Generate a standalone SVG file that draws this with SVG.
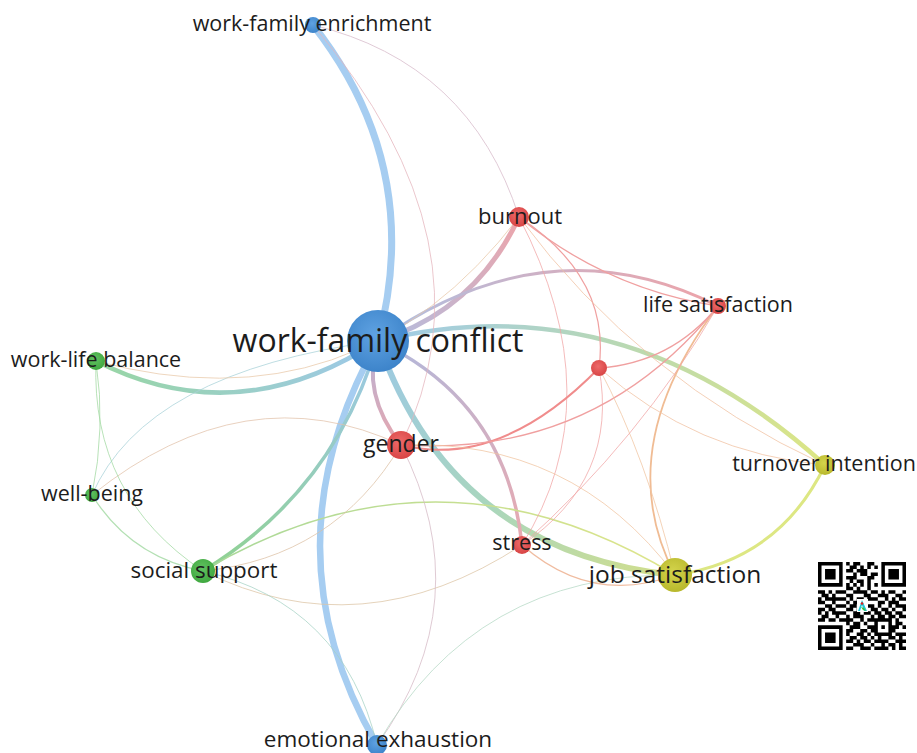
<svg xmlns="http://www.w3.org/2000/svg" width="917" height="753" viewBox="0 0 917 753">
<style>
.lbl{font-family:"Open Sans","DejaVu Sans",sans-serif;fill:#1c1c1c;text-anchor:middle;font-size:21.5px}
.e{fill:none;stroke-linecap:round}
.thin{stroke-width:1;stroke-opacity:0.75}
</style>
<defs>
<radialGradient id="nBlue" cx="45%" cy="40%" r="60%"><stop offset="0" stop-color="#5fa2e2"/><stop offset="1" stop-color="#3d84ca"/></radialGradient>
<radialGradient id="nRed" cx="45%" cy="40%" r="60%"><stop offset="0" stop-color="#ee6a6a"/><stop offset="1" stop-color="#d84545"/></radialGradient>
<radialGradient id="nGreen" cx="45%" cy="40%" r="60%"><stop offset="0" stop-color="#62c262"/><stop offset="1" stop-color="#40a840"/></radialGradient>
<radialGradient id="nYellow" cx="45%" cy="40%" r="60%"><stop offset="0" stop-color="#d4d44c"/><stop offset="1" stop-color="#b8b82c"/></radialGradient>
<linearGradient id="gBurn" gradientUnits="userSpaceOnUse" x1="378" y1="341" x2="519" y2="217"><stop offset="0" stop-color="#b2bde0"/><stop offset="1" stop-color="#eca5ab"/></linearGradient>
<linearGradient id="gLS" gradientUnits="userSpaceOnUse" x1="378" y1="341" x2="718" y2="306"><stop offset="0" stop-color="#aebfe2"/><stop offset="1" stop-color="#eea3a8"/></linearGradient>
<linearGradient id="gTurn" gradientUnits="userSpaceOnUse" x1="378" y1="341" x2="825" y2="465"><stop offset="0" stop-color="#9fcbe8"/><stop offset="0.5" stop-color="#b8d8b4"/><stop offset="1" stop-color="#dde683"/></linearGradient>
<linearGradient id="gJS" gradientUnits="userSpaceOnUse" x1="378" y1="341" x2="675" y2="575"><stop offset="0" stop-color="#9cc9e4"/><stop offset="0.5" stop-color="#a9d6bd"/><stop offset="1" stop-color="#d3df8a"/></linearGradient>
<linearGradient id="gStress" gradientUnits="userSpaceOnUse" x1="378" y1="341" x2="522" y2="545"><stop offset="0" stop-color="#b0b8dc"/><stop offset="1" stop-color="#e9a9b0"/></linearGradient>
<linearGradient id="gGender" gradientUnits="userSpaceOnUse" x1="378" y1="341" x2="401" y2="445"><stop offset="0" stop-color="#b7b3d6"/><stop offset="1" stop-color="#e6a6ae"/></linearGradient>
<linearGradient id="gWLB" gradientUnits="userSpaceOnUse" x1="378" y1="341" x2="96" y2="361"><stop offset="0" stop-color="#9dc8ea"/><stop offset="1" stop-color="#98d6a4"/></linearGradient>
<linearGradient id="gSS" gradientUnits="userSpaceOnUse" x1="378" y1="341" x2="203" y2="571"><stop offset="0" stop-color="#9cc8e8"/><stop offset="1" stop-color="#8fd28f"/></linearGradient>
<linearGradient id="gSSJS" gradientUnits="userSpaceOnUse" x1="203" y1="571" x2="675" y2="575"><stop offset="0" stop-color="#a8d89a"/><stop offset="1" stop-color="#dfe58a"/></linearGradient>
</defs>
<rect width="917" height="753" fill="#ffffff"/>
<g id="connectors">
<path class="e" d="M378,341 Q424.5,167 313,25" stroke="#a6cdf1" stroke-width="7"/>
<path class="e" d="M378,341 Q262.5,547 377,745" stroke="#a6cdf1" stroke-width="6.5"/>
<path class="e" d="M378,341 Q475.5,311 519,217" stroke="url(#gBurn)" stroke-width="5"/>
<path class="e" d="M378,341 Q548,220.5 718,306" stroke="url(#gLS)" stroke-width="3"/>
<path class="e" d="M378,341 Q622.5,281 825,465" stroke="url(#gTurn)" stroke-width="4.5"/>
<path class="e" d="M378,341 Q451.5,552 675,575" stroke="url(#gJS)" stroke-width="6"/>
<path class="e" d="M378,341 Q507,402.6 522,545" stroke="url(#gStress)" stroke-width="3.5"/>
<path class="e" d="M378,341 Q360.5,393 401,445" stroke="url(#gGender)" stroke-width="4"/>
<path class="e" d="M378,341 Q237,433 96,361" stroke="url(#gWLB)" stroke-width="4.5"/>
<path class="e" d="M378,341 Q335.5,490 203,571" stroke="url(#gSS)" stroke-width="3.5"/>
<path class="e thin" d="M378,341 Q145,372 92,495" stroke="#a8d2d8"/>
<path class="e thin" d="M96,361 Q355.7,431 519,217" stroke="#e8c8a8"/>
<path class="e thin" d="M92,495 Q245.5,372 401,445" stroke="#e2c2aa"/>
<path class="e thin" d="M96,361 Q106,428 92,495" stroke="#a0d8a0"/>
<path class="e thin" d="M96,361 Q90.7,496 203,571" stroke="#a0d8a0"/>
<path class="e" d="M92,495 Q130.5,557 203,571" stroke="#a0d8a0" stroke-width="1.3" stroke-opacity="0.8"/>
<path class="e" d="M203,571 Q439,431 675,575" stroke="url(#gSSJS)" stroke-width="1.6"/>
<path class="e thin" d="M203,571 Q361.5,650 522,545" stroke="#dcc4a4"/>
<path class="e thin" d="M203,571 Q343.8,604 377,745" stroke="#a6d2c4"/>
<path class="e thin" d="M203,571 Q334,558 401,445" stroke="#dcc0a4"/>
<path class="e thin" d="M377,745 Q481,601 401,445" stroke="#d4b8c4"/>
<path class="e thin" d="M377,745 Q476,573 675,575" stroke="#b4d8c4"/>
<path class="e" d="M675,575 Q779.5,560 825,465" stroke="#dde783" stroke-width="3"/>
<path class="e" d="M718,306 Q609.5,449.5 675,575" stroke="#f0bc94" stroke-width="1.8"/>
<path class="e" d="M519,217 Q606,289 718,306" stroke="#f0a0a0" stroke-width="1.3"/>
<path class="e" d="M519,217 Q611,277.5 599,368" stroke="#f0a0a0" stroke-width="1.2"/>
<path class="e thin" d="M519,217 Q640,379.8 825,465" stroke="#f0c0a0"/>
<path class="e thin" d="M519,217 Q613.5,399 522,545" stroke="#f0a4a4"/>
<path class="e" d="M599,368 Q500,469.5 401,445" stroke="#f08c8c" stroke-width="2"/>
<path class="e" d="M718,306 Q595.5,458 401,445" stroke="#f0a0a0" stroke-width="1.2"/>
<path class="e" d="M599,368 Q671.5,363 718,306" stroke="#f0a0a0" stroke-width="1.2"/>
<path class="e thin" d="M599,368 Q619.5,479.5 522,545" stroke="#f0a4a4"/>
<path class="e thin" d="M599,368 Q696,453.5 825,465" stroke="#f0c0a0"/>
<path class="e thin" d="M599,368 Q647,458.5 675,575" stroke="#f0c4a0"/>
<path class="e thin" d="M401,445 Q572,438 675,575" stroke="#f0c4a0"/>
<path class="e thin" d="M718,306 Q640,440 522,545" stroke="#f0a4a4"/>
<path class="e" d="M522,545 Q591.5,606 675,575" stroke="#f0bca0" stroke-width="1.3"/>
<path class="e thin" d="M313,25 Q470,63 519,217" stroke="#d6b8c8"/>
<path class="e thin" d="M313,25 Q499,245 401,445" stroke="#e4b4bc"/>
</g>
<g id="node-work-family-enrichment"><circle cx="313" cy="25" r="8" fill="url(#nBlue)"/><text class="lbl" x="312" y="31">work-family enrichment</text></g>
<g id="node-burnout"><circle cx="519" cy="217" r="10" fill="url(#nRed)"/><text class="lbl" x="520" y="224" style="font-size:22px">burnout</text></g>
<g id="node-life-satisfaction"><circle cx="718" cy="306" r="8" fill="url(#nRed)"/><text class="lbl" x="718" y="312">life satisfaction</text></g>
<g id="node-unlabeled"><circle cx="599" cy="368" r="8" fill="url(#nRed)"/></g>
<g id="node-work-life-balance"><circle cx="96" cy="361" r="9" fill="url(#nGreen)"/><text class="lbl" x="96" y="367">work-life balance</text></g>
<g id="node-gender"><circle cx="401" cy="445" r="14" fill="url(#nRed)"/><text class="lbl" x="401" y="452" style="font-size:23px">gender</text></g>
<g id="node-well-being"><circle cx="92" cy="495" r="7" fill="url(#nGreen)"/><text class="lbl" x="92" y="501">well-being</text></g>
<g id="node-turnover-intention"><circle cx="825" cy="465" r="10" fill="url(#nYellow)"/><text class="lbl" x="824" y="471">turnover intention</text></g>
<g id="node-stress"><circle cx="522" cy="545" r="9" fill="url(#nRed)"/><text class="lbl" x="522" y="550">stress</text></g>
<g id="node-social-support"><circle cx="203" cy="571" r="12" fill="url(#nGreen)"/><text class="lbl" x="204" y="578" style="font-size:22.4px">social support</text></g>
<g id="node-job-satisfaction"><circle cx="675" cy="575" r="17" fill="url(#nYellow)"/><text class="lbl" x="675" y="583" style="font-size:24.5px">job satisfaction</text></g>
<g id="node-emotional-exhaustion"><circle cx="377" cy="745" r="10" fill="url(#nBlue)"/><text class="lbl" x="378" y="747" style="font-size:22.5px">emotional exhaustion</text></g>
<g id="node-work-family-conflict"><circle cx="378" cy="341" r="31" fill="url(#nBlue)"/><text class="lbl" x="378" y="352" style="font-size:32px">work-family conflict</text></g>
<g id="qr">
<path transform="translate(818,562) scale(3.52)" fill="#000" d="M0 0h7v1h-7zM8 0h1v1h-1zM10 0h2v1h-2zM14 0h2v1h-2zM18 0h7v1h-7z
M0 1h1v1h-1zM6 1h1v1h-1zM9 1h2v1h-2zM12 1h1v1h-1zM14 1h1v1h-1zM16 1h1v1h-1zM18 1h1v1h-1zM24 1h1v1h-1z
M0 2h1v1h-1zM2 2h3v1h-3zM6 2h1v1h-1zM8 2h2v1h-2zM11 2h3v1h-3zM18 2h1v1h-1zM20 2h3v1h-3zM24 2h1v1h-1z
M0 3h1v1h-1zM2 3h3v1h-3zM6 3h1v1h-1zM10 3h1v1h-1zM12 3h2v1h-2zM15 3h2v1h-2zM18 3h1v1h-1zM20 3h3v1h-3zM24 3h1v1h-1z
M0 4h1v1h-1zM2 4h3v1h-3zM6 4h1v1h-1zM8 4h3v1h-3zM14 4h2v1h-2zM18 4h1v1h-1zM20 4h3v1h-3zM24 4h1v1h-1z
M0 5h1v1h-1zM6 5h1v1h-1zM9 5h1v1h-1zM11 5h2v1h-2zM14 5h1v1h-1zM18 5h1v1h-1zM24 5h1v1h-1z
M0 6h7v1h-7zM8 6h1v1h-1zM10 6h1v1h-1zM12 6h1v1h-1zM14 6h1v1h-1zM16 6h1v1h-1zM18 6h7v1h-7z
M8 7h2v1h-2zM11 7h1v1h-1zM14 7h1v1h-1z
M0 8h2v1h-2zM3 8h1v1h-1zM5 8h3v1h-3zM10 8h4v1h-4zM15 8h2v1h-2zM18 8h1v1h-1zM20 8h2v1h-2zM24 8h1v1h-1z
M1 9h2v1h-2zM4 9h1v1h-1zM8 9h2v1h-2zM13 9h2v1h-2zM17 9h3v1h-3zM22 9h2v1h-2z
M0 10h1v1h-1zM2 10h6v1h-6zM9 10h1v1h-1zM11 10h2v1h-2zM14 10h3v1h-3zM19 10h1v1h-1zM21 10h1v1h-1zM23 10h2v1h-2z
M0 11h2v1h-2zM4 11h1v1h-1zM8 11h1v1h-1zM10 11h2v1h-2zM13 11h1v1h-1zM17 11h2v1h-2zM20 11h3v1h-3z
M2 12h2v1h-2zM5 12h3v1h-3zM9 12h2v1h-2zM12 12h4v1h-4zM17 12h1v1h-1zM20 12h1v1h-1zM22 12h3v1h-3z
M0 13h2v1h-2zM3 13h2v1h-2zM8 13h2v1h-2zM11 13h1v1h-1zM15 13h2v1h-2zM18 13h2v1h-2zM21 13h1v1h-1zM24 13h1v1h-1z
M0 14h1v1h-1zM2 14h1v1h-1zM4 14h4v1h-4zM10 14h2v1h-2zM13 14h2v1h-2zM16 14h2v1h-2zM19 14h2v1h-2zM22 14h2v1h-2z
M1 15h2v1h-2zM5 15h1v1h-1zM8 15h1v1h-1zM10 15h3v1h-3zM15 15h1v1h-1zM17 15h2v1h-2zM20 15h2v1h-2zM23 15h2v1h-2z
M0 16h2v1h-2zM3 16h2v1h-2zM6 16h4v1h-4zM12 16h1v1h-1zM14 16h7v1h-7zM22 16h1v1h-1z
M8 17h1v1h-1zM10 17h2v1h-2zM13 17h1v1h-1zM16 17h1v1h-1zM20 17h1v1h-1zM22 17h2v1h-2z
M0 18h7v1h-7zM9 18h3v1h-3zM14 18h3v1h-3zM18 18h1v1h-1zM20 18h3v1h-3zM24 18h1v1h-1z
M0 19h1v1h-1zM6 19h1v1h-1zM8 19h2v1h-2zM12 19h2v1h-2zM15 19h2v1h-2zM20 19h2v1h-2z
M0 20h1v1h-1zM2 20h3v1h-3zM6 20h1v1h-1zM8 20h1v1h-1zM11 20h2v1h-2zM14 20h1v1h-1zM16 20h5v1h-5zM22 20h3v1h-3z
M0 21h1v1h-1zM2 21h3v1h-3zM6 21h1v1h-1zM9 21h2v1h-2zM12 21h2v1h-2zM15 21h1v1h-1zM17 21h1v1h-1zM20 21h2v1h-2zM23 21h1v1h-1z
M0 22h1v1h-1zM2 22h3v1h-3zM6 22h1v1h-1zM8 22h2v1h-2zM11 22h1v1h-1zM13 22h2v1h-2zM16 22h4v1h-4zM22 22h3v1h-3z
M0 23h1v1h-1zM6 23h1v1h-1zM10 23h3v1h-3zM15 23h1v1h-1zM18 23h1v1h-1zM20 23h2v1h-2zM23 23h1v1h-1z
M0 24h7v1h-7zM8 24h2v1h-2zM12 24h3v1h-3zM16 24h4v1h-4zM21 24h1v1h-1zM23 24h2v1h-2z"/>
<rect x="857" y="599" width="11" height="13" fill="#ffffff"/>
<path d="M858,611 L862,600 L867,611 L864,611 L862,605 L860,611 Z" fill="#27c8d8"/>
<path d="M861,607 L864,608 L866,611 L863,610 Z" fill="#3fbf3f"/>
<circle cx="862" cy="603.5" r="1.3" fill="#e02020"/>
</g>
</svg>
